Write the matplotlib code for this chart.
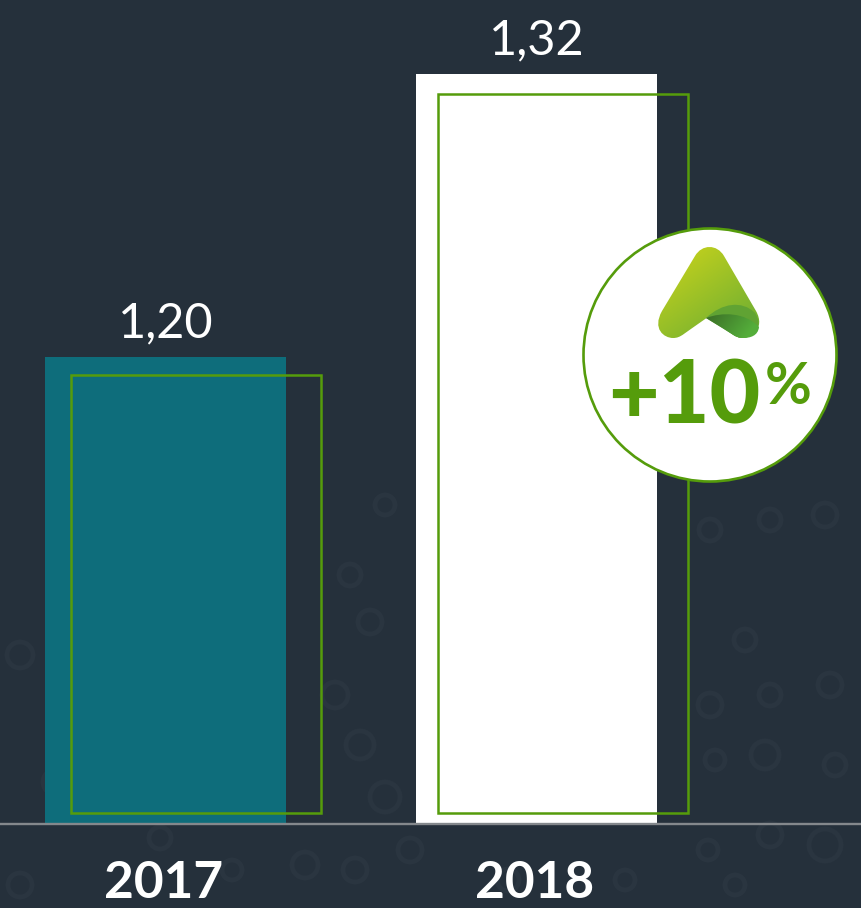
# -*- coding: utf-8 -*-
import numpy as np
import matplotlib
matplotlib.use('Agg')
from matplotlib import pyplot as plt
from matplotlib.patches import Circle, PathPatch
from matplotlib.path import Path
from matplotlib.transforms import blended_transform_factory

# dati
years = ['2017', '2018']
values = [1.20, 1.32]
value_labels = ['1,20', '1,32']
outline_tops = [1.1924, 1.3115]
outline_shift = [0.082, 0.072]
badge_text = '+10'

BG = '#25303b'
GREEN = '#559c0b'
plt.rcParams['font.family'] = ['Lato', 'DejaVu Sans']

W, H = 861, 908
fig = plt.figure(figsize=(W / 100., H / 100.), dpi=100, facecolor=BG)

# asse dei dati: 1 unita' x = 371 px, 1 unita' y = 2358 px
ax = fig.add_axes([0, 0, 1, 1], facecolor='none')
ax.set_xlim(-165.5 / 371., (W - 165.5) / 371.)
ax.set_ylim(1.20 + (357 - H) / 2358.3, 1.20 + 357 / 2358.3)
ax.axis('off')
ax.set_zorder(2)
base = 1.20 + (357 - 824) / 2358.3
x = np.arange(len(years))
trans = blended_transform_factory(ax.transData, ax.transAxes)

ax.bar(x, np.array(values) - base, bottom=base, width=0.65,
       color=['#0e6d7b', '#ffffff'], zorder=2)
out_bottom = base + 11 / 2358.3
ax.bar(x + np.array(outline_shift), np.array(outline_tops) - out_bottom,
       bottom=out_bottom, width=0.674, fill=False, edgecolor=GREEN,
       linewidth=1.8, zorder=3)
ax.axhline(base, color='#84888c', linewidth=1.7, zorder=4)

for i in range(len(years)):
    ax.text(x[i], values[i] + 12 / 2358.3, value_labels[i], color='white',
            fontsize=35, ha='center', va='bottom', zorder=5)
    ax.text(x[i] - 0.005, 0.0265, years[i], color='white', fontsize=37,
            fontweight='bold', ha='center', va='center', transform=trans, zorder=5)

# anellini appena visibili dello sfondo
rings = [(20, 655, 13), (55, 782, 12), (160, 838, 11), (232, 870, 10), (305, 865, 13),
         (385, 797, 15), (335, 695, 13), (360, 745, 14), (350, 575, 11), (370, 622, 12),
         (410, 850, 12), (508, 880, 11), (355, 870, 12), (710, 705, 12), (765, 755, 14),
         (825, 845, 16), (830, 685, 12), (770, 695, 11), (715, 760, 10), (770, 520, 11),
         (825, 515, 12), (710, 530, 11), (745, 640, 11), (835, 765, 11), (770, 835, 12),
         (708, 850, 10), (385, 505, 10), (20, 885, 12), (625, 880, 10), (735, 885, 10)]
bg_ax = fig.add_axes([0, 0, 1, 1], facecolor='none')
bg_ax.set_xlim(0, W)
bg_ax.set_ylim(H, 0)
bg_ax.axis('off')
bg_ax.set_zorder(1)
for rx, ry, rr in rings:
    bg_ax.add_patch(Circle((rx, ry), rr, fill=False, edgecolor='#2a3540', linewidth=3.5))

# sovrapposizione in pixel: distintivo e logo
ov = fig.add_axes([0, 0, 1, 1], facecolor='none')
ov.set_zorder(3)
ov.axis('off')

ov.add_patch(Circle((710, 355), 126.5, facecolor='white', edgecolor=GREEN, linewidth=1.9))

M, L, C = Path.MOVETO, Path.LINETO, Path.CURVE4
logo_pts = [(695, 256), (702, 244), (717, 244), (724, 256), (756, 311), (766, 329),
            (750, 338), (743, 338), (735, 338), (733, 334), (708, 317), (683, 334),
            (681, 338), (673, 338), (664, 338), (652, 329), (662, 311), (695, 256)]
logo_codes = [M, C, C, C, L, C, C, C, C, C, L, C, C, C, C, C, L, L]
logo = Path(logo_pts, logo_codes)
yy, xx = np.mgrid[0:1:120j, 0:1:120j]
ramp = np.clip((xx * 0.62 + yy * 0.75) / 1.25, 0, 1)
c0 = np.array([0.82, 0.84, 0.10])
c1 = np.array([0.42, 0.68, 0.20])
img = c0 + (c1 - c0) * ramp[..., None]
im = ov.imshow(img, extent=(655, 765, 340, 245), aspect='auto', zorder=5)
im.set_clip_path(PathPatch(logo, transform=ov.transData))

# piega del logo, banda chiara e banda scura
band_pts = [(706, 318), (722, 303), (742, 300), (755, 313), (765, 329), (750, 338), (743, 338),
            (735, 338), (733, 334), (706, 318)]
band_codes = [M, C, C, C, C, C, C, C, C, L]
band = Path(band_pts, band_codes)
im3 = ov.imshow(np.array([[[0.38, 0.64, 0.20]]]), extent=(700, 765, 340, 298),
                aspect='auto', zorder=6)
im3.set_clip_path(PathPatch(band, transform=ov.transData))

fold_pts = [(706, 318), (722, 312), (745, 312), (759, 327), (758, 336), (750, 338), (743, 338),
            (735, 338), (733, 334), (706, 318)]
fold = Path(fold_pts, band_codes)
yy2, xx2 = np.mgrid[0:1:60j, 0:1:60j]
ramp2 = np.clip(xx2 * 0.9 + yy2 * 0.4, 0, 1)
f0 = np.array([0.22, 0.40, 0.14])
f1 = np.array([0.33, 0.68, 0.23])
im2 = ov.imshow(f0 + (f1 - f0) * ramp2[..., None], extent=(705, 762, 340, 308),
                aspect='auto', zorder=7)
im2.set_clip_path(PathPatch(fold, transform=ov.transData))
ov.set_xlim(0, W)
ov.set_ylim(H, 0)

ov.text(608, 423, badge_text, color=GREEN, fontsize=63, fontweight='black',
        ha='left', va='baseline', zorder=8)
ov.text(765, 404, '%', color=GREEN, fontsize=41, fontweight='bold',
        ha='left', va='baseline', zorder=8)

fig.savefig('out.png', dpi=100, facecolor=BG)
